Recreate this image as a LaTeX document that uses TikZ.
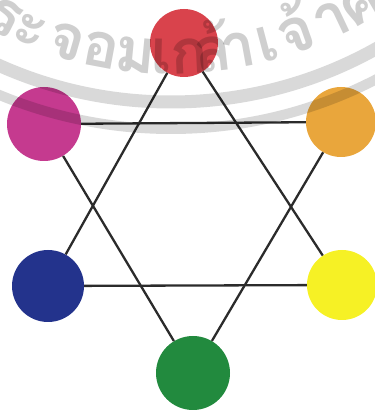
\documentclass[tikz,border=0pt]{standalone}
\usepackage{fontspec}
\newfontfamily\thaifont[Script=Thai]{Loma}
\usetikzlibrary{positioning,calc}
\definecolor{dotred}{HTML}{D9434C}
\definecolor{dotmagenta}{HTML}{C53A8F}
\definecolor{dotorange}{HTML}{E9A63C}
\definecolor{dotblue}{HTML}{23338C}
\definecolor{dotyellow}{HTML}{F6F125}
\definecolor{dotgreen}{HTML}{228A3E}
\definecolor{linegray}{HTML}{2B2B2B}
\tikzset{
  dot/.style={circle, inner sep=0pt, minimum size=72pt},
  link/.style={draw=linegray, line width=2.3pt},
  wband/.style={draw=black, opacity=0.15},
  wtext/.style={text=black, opacity=0.19, inner sep=0pt, anchor=base,
    font=\fontsize{62}{62}\thaifont\bfseries},
}
\begin{document}
\begin{tikzpicture}[x=1pt,y=1pt]
\useasboundingbox (0,0) rectangle (375,410);
% colour dots (pixel positions, y measured up)
\node[dot, fill=dotred, minimum size=68pt] (red) at (184,367) {};
\node[dot, fill=dotmagenta, minimum size=74pt] (magenta) at (44,286) {};
\node[dot, fill=dotorange, minimum size=70pt] (orange) at (341,288) {};
\node[dot, fill=dotblue] (blue) at (48,124) {};
\node[dot, fill=dotyellow, minimum size=70pt] (yellow) at (342,125) {};
\node[dot, fill=dotgreen, minimum size=74pt] (green) at (193,37) {};
% star: two triangles
\draw[link] (red) -- (blue);
\draw[link] (red) -- (yellow);
\draw[link] (blue) -- (yellow);
\draw[link] (magenta) -- (orange);
\draw[link] (magenta) -- (green);
\draw[link] (orange) -- (green);
% watermark seal, centre far above the picture
\begin{scope}
\clip (0,0) rectangle (375,410);
\coordinate (wc) at (171,729);
\draw[wband, line width=13pt] (wc) circle[radius=421];
\draw[wband, line width=10pt] (wc) circle[radius=448];
\foreach \px/\ch [count=\i] in {-4/ร, 24/ะ, 62/จ, 98/อ, 134/ม, 161/เ, 190/ก,
    215/ล้, 242/า, 272/เ, 303/จ้, 339/า, 369/ค}{
  \pgfmathsetmacro{\ang}{-90+asin((\px-171)/393)}
  \node[wtext, rotate=\ang+90] (w\i) at ($(wc)+(\ang:393)$) {\ch};
}
\end{scope}
\end{tikzpicture}
\end{document}
